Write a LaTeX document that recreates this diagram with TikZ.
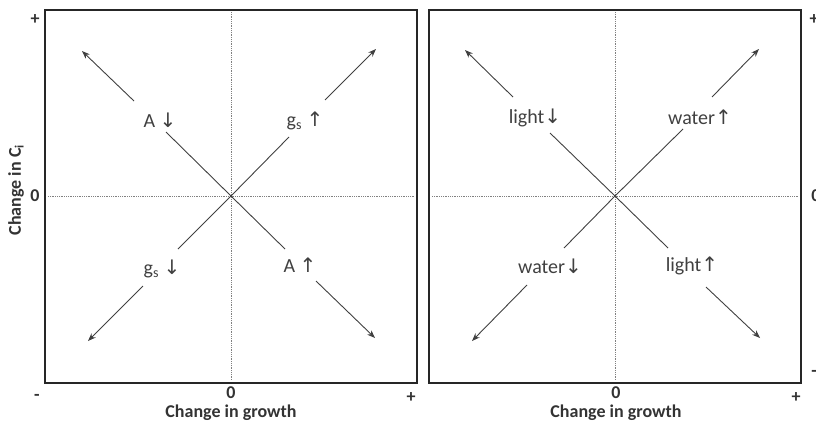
\documentclass[tikz,border=0pt]{standalone}
\usepackage{fontspec}
\setmainfont{Carlito}
\newfontfamily\arrowfont{DejaVu Sans}
\usetikzlibrary{arrows.meta,calc,positioning}
\newcommand{\upar}{{\arrowfont\char"2191}}
\newcommand{\dnar}{{\arrowfont\char"2193}}

\begin{document}
\begin{tikzpicture}[x=1pt,y=-1pt,
    frame/.style={draw=black!85,line width=1.6pt},
    axis/.style={draw=gray,densely dotted,line width=0.8pt},
    diag/.style={draw=black!75,line width=0.9pt},
    tipline/.style={diag,-{Stealth[length=8pt,width=6pt]}},
    lbl/.style={text=black!75,font=\fontsize{20}{20}\selectfont,inner sep=0pt},
    ticklbl/.style={text=black!80,font=\bfseries\fontsize{18}{18}\selectfont,inner sep=0pt},
    title/.style={text=black!80,font=\bfseries\fontsize{18}{18}\selectfont,inner sep=0pt}]
  \useasboundingbox (0,0) rectangle (816,426);
  % Draw the boxes
  \draw[frame] (45,10) rectangle (417,383);
  \draw[frame] (429,10) rectangle (801,383);
  % axes
  \draw[axis] (48,196) -- (414,196);
  \draw[axis] (231,12) -- (231,380);
  \draw[axis] (432,196) -- (798,196);
  \draw[axis] (615,12) -- (615,380);
  % tick labels
  \node[ticklbl] (lplus) at (35,20) {+};
  \node[ticklbl] (lzero) at (35,196) {0};
  \node[ticklbl] (lminus) at (37,397) {-};
  \node[ticklbl] (bzeroa) at (231,393) {0};
  \node[ticklbl] (bplusa) at (411,398) {+};
  \node[ticklbl] (bzerob) at (616,393) {0};
  \node[ticklbl] (bplusb) at (796,398) {+};
  \node[ticklbl] (rplus) at (814,20) {+};
  \node[ticklbl] (rzero) at (816,196) {0};
  \node[ticklbl] (rminus) at (814,373) {-};
  % titles
  \node[title] (growtha) at (231,413) {Change in growth};
  \node[title] (growthb) at (616,413) {Change in growth};
  \node[title,rotate=90] (ci) at (16,190) {Change in C\textsubscript{i}};

  % left panel
  \coordinate (oa) at (231,196);
  \node[lbl] (adn) at (160,120) {A \dnar};
  \node[lbl] (gsup) at (305,121) {g\textsubscript{s} \upar};
  \node[lbl] (gsdn) at (162,269) {g\textsubscript{s} \dnar};
  \node[lbl] (aup) at (300,265) {A \upar};
  \coordinate (anw1) at (166,132);
  \coordinate (anw2) at (134,101);
  \coordinate (anw3) at (82,51);
  \coordinate (ane1) at (289,137);
  \coordinate (ane2) at (325,100);
  \coordinate (ane3) at (376,49);
  \coordinate (asw1) at (178,249);
  \coordinate (asw2) at (143,286);
  \coordinate (asw3) at (88,341);
  \coordinate (ase1) at (285,249);
  \coordinate (ase2) at (316,281);
  \coordinate (ase3) at (375,338);
  \foreach \d in {nw,ne,sw,se}{
    \draw[diag] (oa) -- (a\d1);
    \draw[tipline] (a\d2) -- (a\d3);
  }

  % right panel
  \coordinate (ob) at (615,196);
  \node[lbl] (lightdn) at (535,118) {light\dnar};
  \node[lbl] (waterup) at (700,117) {water\upar};
  \node[lbl] (waterdn) at (550,266) {water\dnar};
  \node[lbl] (lightup) at (692,266) {light\upar};
  \coordinate (bnw1) at (550,133);
  \coordinate (bnw2) at (513,97);
  \coordinate (bnw3) at (465,50);
  \coordinate (bne1) at (683,129);
  \coordinate (bne2) at (712,97);
  \coordinate (bne3) at (759,49);
  \coordinate (bsw1) at (564,248);
  \coordinate (bsw2) at (527,285);
  \coordinate (bsw3) at (472,341);
  \coordinate (bse1) at (668,248);
  \coordinate (bse2) at (706,287);
  \coordinate (bse3) at (760,338);
  \foreach \d in {nw,ne,sw,se}{
    \draw[diag] (ob) -- (b\d1);
    \draw[tipline] (b\d2) -- (b\d3);
  }
\end{tikzpicture}
\end{document}
